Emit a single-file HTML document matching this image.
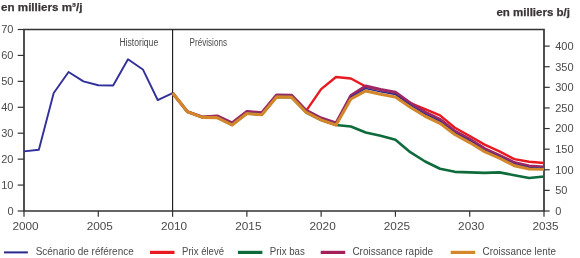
<!DOCTYPE html>
<html><head><meta charset="utf-8"><style>
html,body{margin:0;padding:0;background:#fff;width:580px;height:258px;overflow:hidden}
svg{display:block;will-change:transform}
text{font-family:"Liberation Sans",sans-serif}
</style></head><body>
<svg width="580" height="258" viewBox="0 0 580 258" font-family="Liberation Sans, sans-serif"><path d="M24.0,29.5 H544.0 V211.0 H24.0 Z" fill="none" stroke="#333333" stroke-width="1.7"/>
<line x1="172.57" y1="29.5" x2="172.57" y2="211.0" stroke="#222" stroke-width="1.2"/>
<line x1="17.7" y1="211.00" x2="24.0" y2="211.00" stroke="#333333" stroke-width="1.2"/>
<text x="13.5" y="214.90" text-anchor="end" font-size="11" fill="#4a4a4a">0</text>
<line x1="17.7" y1="185.07" x2="24.0" y2="185.07" stroke="#333333" stroke-width="1.2"/>
<text x="13.5" y="188.97" text-anchor="end" font-size="11" fill="#4a4a4a">10</text>
<line x1="17.7" y1="159.14" x2="24.0" y2="159.14" stroke="#333333" stroke-width="1.2"/>
<text x="13.5" y="163.04" text-anchor="end" font-size="11" fill="#4a4a4a">20</text>
<line x1="17.7" y1="133.21" x2="24.0" y2="133.21" stroke="#333333" stroke-width="1.2"/>
<text x="13.5" y="137.11" text-anchor="end" font-size="11" fill="#4a4a4a">30</text>
<line x1="17.7" y1="107.29" x2="24.0" y2="107.29" stroke="#333333" stroke-width="1.2"/>
<text x="13.5" y="111.19" text-anchor="end" font-size="11" fill="#4a4a4a">40</text>
<line x1="17.7" y1="81.36" x2="24.0" y2="81.36" stroke="#333333" stroke-width="1.2"/>
<text x="13.5" y="85.26" text-anchor="end" font-size="11" fill="#4a4a4a">50</text>
<line x1="17.7" y1="55.43" x2="24.0" y2="55.43" stroke="#333333" stroke-width="1.2"/>
<text x="13.5" y="59.33" text-anchor="end" font-size="11" fill="#4a4a4a">60</text>
<line x1="17.7" y1="29.50" x2="24.0" y2="29.50" stroke="#333333" stroke-width="1.2"/>
<text x="13.5" y="33.40" text-anchor="end" font-size="11" fill="#4a4a4a">70</text>
<line x1="544.0" y1="211.00" x2="549.7" y2="211.00" stroke="#333333" stroke-width="1.2"/>
<text x="555.2" y="214.90" font-size="11" fill="#4a4a4a">0</text>
<line x1="544.0" y1="190.39" x2="549.7" y2="190.39" stroke="#333333" stroke-width="1.2"/>
<text x="555.2" y="194.29" font-size="11" fill="#4a4a4a">50</text>
<line x1="544.0" y1="169.78" x2="549.7" y2="169.78" stroke="#333333" stroke-width="1.2"/>
<text x="555.2" y="173.68" font-size="11" fill="#4a4a4a">100</text>
<line x1="544.0" y1="149.17" x2="549.7" y2="149.17" stroke="#333333" stroke-width="1.2"/>
<text x="555.2" y="153.07" font-size="11" fill="#4a4a4a">150</text>
<line x1="544.0" y1="128.55" x2="549.7" y2="128.55" stroke="#333333" stroke-width="1.2"/>
<text x="555.2" y="132.45" font-size="11" fill="#4a4a4a">200</text>
<line x1="544.0" y1="107.94" x2="549.7" y2="107.94" stroke="#333333" stroke-width="1.2"/>
<text x="555.2" y="111.84" font-size="11" fill="#4a4a4a">250</text>
<line x1="544.0" y1="87.33" x2="549.7" y2="87.33" stroke="#333333" stroke-width="1.2"/>
<text x="555.2" y="91.23" font-size="11" fill="#4a4a4a">300</text>
<line x1="544.0" y1="66.72" x2="549.7" y2="66.72" stroke="#333333" stroke-width="1.2"/>
<text x="555.2" y="70.62" font-size="11" fill="#4a4a4a">350</text>
<line x1="544.0" y1="46.11" x2="549.7" y2="46.11" stroke="#333333" stroke-width="1.2"/>
<text x="555.2" y="50.01" font-size="11" fill="#4a4a4a">400</text>
<line x1="24.00" y1="211.0" x2="24.00" y2="216.8" stroke="#333333" stroke-width="1.2"/>
<text x="25.50" y="229.8" text-anchor="middle" font-size="11" fill="#4a4a4a" textLength="26.2" lengthAdjust="spacingAndGlyphs">2000</text>
<line x1="98.29" y1="211.0" x2="98.29" y2="216.8" stroke="#333333" stroke-width="1.2"/>
<text x="99.79" y="229.8" text-anchor="middle" font-size="11" fill="#4a4a4a" textLength="26.2" lengthAdjust="spacingAndGlyphs">2005</text>
<line x1="172.57" y1="211.0" x2="172.57" y2="216.8" stroke="#333333" stroke-width="1.2"/>
<text x="174.07" y="229.8" text-anchor="middle" font-size="11" fill="#4a4a4a" textLength="26.2" lengthAdjust="spacingAndGlyphs">2010</text>
<line x1="246.86" y1="211.0" x2="246.86" y2="216.8" stroke="#333333" stroke-width="1.2"/>
<text x="248.36" y="229.8" text-anchor="middle" font-size="11" fill="#4a4a4a" textLength="26.2" lengthAdjust="spacingAndGlyphs">2015</text>
<line x1="321.14" y1="211.0" x2="321.14" y2="216.8" stroke="#333333" stroke-width="1.2"/>
<text x="322.64" y="229.8" text-anchor="middle" font-size="11" fill="#4a4a4a" textLength="26.2" lengthAdjust="spacingAndGlyphs">2020</text>
<line x1="395.43" y1="211.0" x2="395.43" y2="216.8" stroke="#333333" stroke-width="1.2"/>
<text x="396.93" y="229.8" text-anchor="middle" font-size="11" fill="#4a4a4a" textLength="26.2" lengthAdjust="spacingAndGlyphs">2025</text>
<line x1="469.71" y1="211.0" x2="469.71" y2="216.8" stroke="#333333" stroke-width="1.2"/>
<text x="471.21" y="229.8" text-anchor="middle" font-size="11" fill="#4a4a4a" textLength="26.2" lengthAdjust="spacingAndGlyphs">2030</text>
<line x1="544.00" y1="211.0" x2="544.00" y2="216.8" stroke="#333333" stroke-width="1.2"/>
<text x="545.50" y="229.8" text-anchor="middle" font-size="11" fill="#4a4a4a" textLength="26.2" lengthAdjust="spacingAndGlyphs">2035</text>
<path d="M24.00,151.36 L38.86,149.81 L53.71,93.03 L68.57,72.02 L83.43,81.36 L98.29,85.25 L113.14,85.51 L128.00,59.32 L142.86,69.43 L157.71,100.03 L172.57,93.03" fill="none" stroke="#31309a" stroke-width="1.9" stroke-linejoin="round"/>
<path d="M172.57,93.28 L187.43,111.82 L202.29,117.14 L217.14,116.10 L232.00,123.10 L246.86,111.69 L261.71,112.99 L276.57,95.10 L291.43,95.36 L306.29,110.66 L321.14,89.14 L336.00,76.95 L350.86,78.50 L365.71,86.54 L380.57,89.91 L395.43,92.77 L410.29,103.14 L425.14,109.23 L440.00,115.32 L454.86,127.77 L469.71,136.07 L484.57,144.62 L499.43,151.36 L514.29,159.14 L529.14,161.74 L544.00,163.03" fill="none" stroke="#e8191f" stroke-width="2.4" stroke-linejoin="round"/>
<path d="M172.57,93.03 L187.43,111.82 L202.29,117.40 L217.14,117.66 L232.00,124.92 L246.86,113.51 L261.71,114.80 L276.57,96.91 L291.43,97.17 L306.29,112.47 L321.14,119.99 L336.00,124.92 L350.86,126.47 L365.71,132.44 L380.57,135.81 L395.43,139.70 L410.29,152.14 L425.14,161.48 L440.00,168.74 L454.86,171.85 L469.71,172.37 L484.57,172.88 L499.43,172.37 L514.29,175.22 L529.14,178.07 L544.00,176.51" fill="none" stroke="#0f6b3c" stroke-width="2.6" stroke-linejoin="round"/>
<path d="M172.57,93.03 L187.43,111.56 L202.29,116.88 L217.14,115.84 L232.00,122.84 L246.86,111.43 L261.71,112.73 L276.57,94.84 L291.43,95.10 L306.29,110.40 L321.14,117.92 L336.00,122.84 L350.86,95.36 L365.71,86.02 L380.57,89.39 L395.43,92.25 L410.29,102.88 L425.14,112.08 L440.00,119.21 L454.86,131.14 L469.71,138.92 L484.57,148.51 L499.43,155.25 L514.29,162.51 L529.14,165.88 L544.00,166.92" fill="none" stroke="#9c2765" stroke-width="2.9" stroke-linejoin="round"/>
<path d="M172.57,93.03 L187.43,111.69 L202.29,117.14 L217.14,116.75 L232.00,123.88 L246.86,112.47 L261.71,113.77 L276.57,95.88 L291.43,96.14 L306.29,111.43 L321.14,118.95 L336.00,123.88 L350.86,97.17 L365.71,88.49 L380.57,91.86 L395.43,94.58 L410.29,105.08 L425.14,114.16 L440.00,121.29 L454.86,132.83 L469.71,140.73 L484.57,150.07 L499.43,156.68 L514.29,164.07 L529.14,167.44 L544.00,168.09" fill="none" stroke="#2b2a8c" stroke-width="1.5" stroke-linejoin="round"/>
<path d="M172.57,93.03 L187.43,111.82 L202.29,117.40 L217.14,117.66 L232.00,124.92 L246.86,113.51 L261.71,114.80 L276.57,96.91 L291.43,97.17 L306.29,112.47 L321.14,119.99 L336.00,124.92 L350.86,98.99 L365.71,90.95 L380.57,94.32 L395.43,96.91 L410.29,107.29 L425.14,116.23 L440.00,123.36 L454.86,134.51 L469.71,142.55 L484.57,151.62 L499.43,158.11 L514.29,165.62 L529.14,169.00 L544.00,169.25" fill="none" stroke="#d4862a" stroke-width="3.1" stroke-linejoin="round"/>
<text x="119.4" y="45.7" font-size="10" fill="#4a4a4a" textLength="38.8" lengthAdjust="spacingAndGlyphs">Historique</text>
<text x="189.6" y="45.7" font-size="10" fill="#4a4a4a" textLength="37.4" lengthAdjust="spacingAndGlyphs">Prévisions</text>
<text x="1" y="10.9" font-size="11" font-weight="bold" fill="#3a3436" stroke="#3a3436" stroke-width="0.25" textLength="81.4" lengthAdjust="spacingAndGlyphs">en milliers m³/j</text>
<text x="496.4" y="15.5" font-size="11" font-weight="bold" fill="#3a3436" stroke="#3a3436" stroke-width="0.25" textLength="73.6" lengthAdjust="spacingAndGlyphs">en milliers b/j</text>
<line x1="4" y1="252.4" x2="27.9" y2="252.4" stroke="#2b2a8c" stroke-width="2.0"/>
<text x="35.7" y="255.2" font-size="11" fill="#4a4a4a" textLength="98" lengthAdjust="spacingAndGlyphs">Scénario de référence</text>
<line x1="150" y1="252.4" x2="174.5" y2="252.4" stroke="#e8191f" stroke-width="3.2"/>
<text x="182" y="255.2" font-size="11" fill="#4a4a4a" textLength="42" lengthAdjust="spacingAndGlyphs">Prix élevé</text>
<line x1="237.9" y1="252.4" x2="262.4" y2="252.4" stroke="#0f6b3c" stroke-width="3.2"/>
<text x="269.8" y="255.2" font-size="11" fill="#4a4a4a" textLength="35" lengthAdjust="spacingAndGlyphs">Prix bas</text>
<line x1="320.7" y1="252.4" x2="345.2" y2="252.4" stroke="#a3205b" stroke-width="3.2"/>
<text x="352.4" y="255.2" font-size="11" fill="#4a4a4a" textLength="80.7" lengthAdjust="spacingAndGlyphs">Croissance rapide</text>
<line x1="450.7" y1="252.4" x2="475.2" y2="252.4" stroke="#d4862a" stroke-width="3.2"/>
<text x="482.6" y="255.2" font-size="11" fill="#4a4a4a" textLength="73.3" lengthAdjust="spacingAndGlyphs">Croissance lente</text></svg>
</body></html>
